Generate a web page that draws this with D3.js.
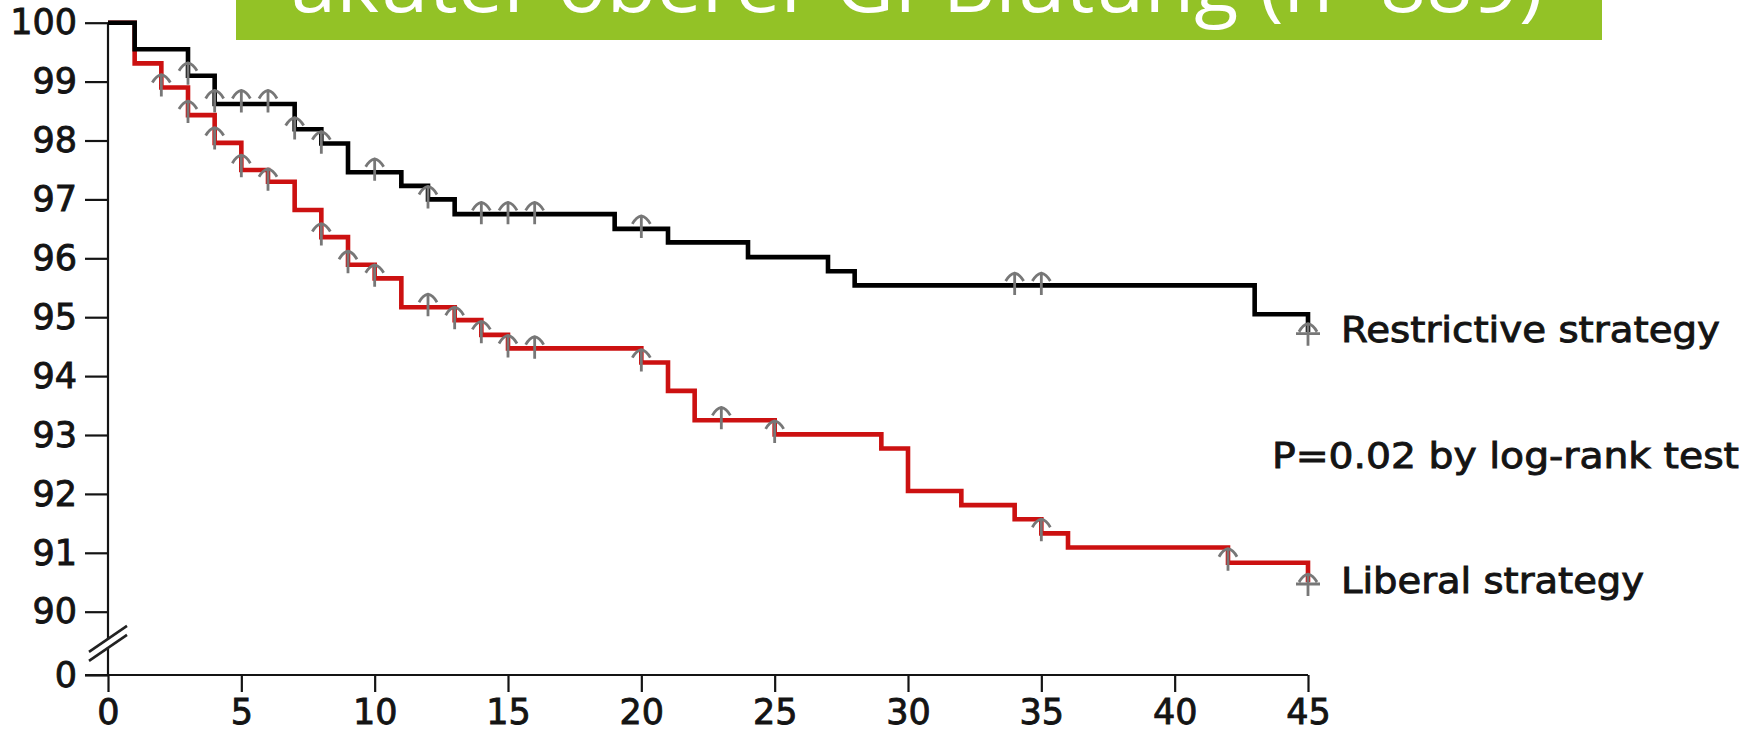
<!DOCTYPE html>
<html>
<head>
<meta charset="utf-8">
<script src="https://cdn.jsdelivr.net/npm/d3@7"></script>
<style>
  html, body { margin: 0; padding: 0; background: #fff; }
  svg { display: block; }
</style>
</head>
<body>
<div id="chart"></div>
<script>
// Kaplan-Meier data (days vs % survival)
var xTicks = [0, 5, 10, 15, 20, 25, 30, 35, 40, 45];
var yTicks = [0, 90, 91, 92, 93, 94, 95, 96, 97, 98, 99, 100];

var restrictiveTimes = [0, 1, 3, 4, 7, 8, 9, 11, 12, 13, 19, 21, 24, 27, 28, 43, 45];
var restrictiveSurv = [100, 99.55, 99.1, 98.62, 98.19, 97.95, 97.46, 97.23, 97.0, 96.75,
  96.5, 96.27, 96.02, 95.78, 95.54, 95.05, 94.75];

var liberalTimes = [0, 1, 2, 3, 4, 5, 6, 7, 8, 9, 10, 11, 13, 14, 15, 20, 21, 22, 25,
  29, 30, 32, 34, 35, 36, 42, 45];
var liberalSurv = [100, 99.31, 98.9, 98.43, 97.96, 97.5, 97.3, 96.82, 96.36, 95.89, 95.66,
  95.17, 94.95, 94.7, 94.47, 94.23, 93.75, 93.25, 93.01, 92.77, 92.05, 91.81, 91.57,
  91.33, 91.09, 90.83, 90.5];

// censored observations
var restrictiveCensorT = [3, 4, 5, 6, 7, 8, 10, 12, 14, 15, 16, 20, 34, 35, 45];
var restrictiveCensorV = [99.15, 98.68, 98.68, 98.68, 98.22, 97.98, 97.52, 97.05, 96.78,
  96.78, 96.78, 96.55, 95.58, 95.58, 94.72];
var liberalCensorT = [2, 3, 4, 5, 6, 8, 9, 10, 12, 13, 14, 15, 16, 20, 23, 25, 35, 42, 45];
var liberalCensorV = [98.95, 98.5, 98.05, 97.58, 97.35, 96.42, 95.95, 95.72, 95.22, 95.0,
  94.76, 94.52, 94.5, 94.28, 93.3, 93.07, 91.4, 90.9, 90.47];

var title = 'akuter oberer GI-Blutung (n=889)';
var seriesLabels = ['Restrictive strategy', 'Liberal strategy'];
var pLabel = 'P=0.02 by log-rank test';

var width = 1744,
  height = 733,
  green = '#93c226',
  red = '#cc1111',
  grey = '#777',
  ink = '#141414',
  font = '"DejaVu Sans", sans-serif';

var svg = d3.select('#chart')
  .append('svg')
  .attr('width', width)
  .attr('height', height);

var x = d3.scaleLinear().domain([0, 45]).range([108, 1308]);
// broken axis: 0 sits under a gap below 90
var y = d3.scaleLinear().domain([0, 90, 100]).range([675, 611.7, 22.7]);

// title banner, cut off at the top like the slide
svg.append('rect')
  .attr('x', 236).attr('y', 0)
  .attr('width', 1366).attr('height', 40)
  .attr('fill', green);

svg.append('text')
  .attr('x', 291).attr('y', 12)
  .attr('textLength', 1252)
  .attr('lengthAdjust', 'spacingAndGlyphs')
  .style('font-family', '"Open Sans", sans-serif')
  .style('font-size', '76px')
  .style('fill', '#fff')
  .text(title);

// axes
var yAxis = svg.append('g')
  .attr('transform', 'translate(' + x(0) + ',0)')
  .call(d3.axisLeft(y).tickValues(yTicks).tickSize(23).tickPadding(8).tickFormat(d3.format('d')));

var xAxis = svg.append('g')
  .attr('transform', 'translate(0,' + y(0) + ')')
  .call(d3.axisBottom(x).tickValues(xTicks).tickSize(17).tickPadding(8).tickFormat(d3.format('d')));

[yAxis, xAxis].forEach(function(a) {
  a.select('.domain').remove();
  a.selectAll('.tick line').attr('stroke', ink).attr('stroke-width', 2.2);
  a.selectAll('.tick text')
    .style('font-family', font)
    .style('font-size', '35px')
    .style('fill', ink)
    .style('stroke', ink)
    .style('stroke-width', 0.9);
});
xAxis.selectAll('.tick text').attr('dy', '0.68em');

var breakY = (y(0) + y(90)) / 2;
svg.append('g')
  .attr('stroke', ink)
  .attr('stroke-width', 2.2)
  .selectAll('line')
  .data([[y(100), breakY - 4], [breakY + 5, y(0)]])
  .enter()
  .append('line')
  .attr('x1', x(0)).attr('x2', x(0))
  .attr('y1', function(d) { return d[0]; })
  .attr('y2', function(d) { return d[1]; });

svg.append('line')
  .attr('x1', x(0) - 23).attr('x2', x(45))
  .attr('y1', y(0)).attr('y2', y(0))
  .attr('stroke', ink).attr('stroke-width', 2.2);

svg.append('g')
  .attr('stroke', '#222')
  .attr('stroke-width', 2.6)
  .selectAll('line')
  .data([-4.5, 4.5])
  .enter()
  .append('line')
  .attr('x1', x(0) - 19).attr('x2', x(0) + 19)
  .attr('y1', function(d) { return breakY + d + 13; })
  .attr('y2', function(d) { return breakY + d - 13; });

// curves
var line = d3.line()
  .x(function(d) { return x(d[0]); })
  .y(function(d) { return y(d[1]); })
  .curve(d3.curveStepAfter);

var series = [
  { times: liberalTimes, surv: liberalSurv, color: red, ct: liberalCensorT, cv: liberalCensorV },
  { times: restrictiveTimes, surv: restrictiveSurv, color: '#000', ct: restrictiveCensorT, cv: restrictiveCensorV }
];

series.forEach(function(s) {
  svg.append('path')
    .datum(d3.zip(s.times, s.surv))
    .attr('d', line)
    .attr('fill', 'none')
    .attr('stroke', s.color)
    .attr('stroke-width', 4.6)
    .attr('stroke-linejoin', 'miter');
});

// censor arrows
series.forEach(function(s) {
  svg.append('g')
    .selectAll('path')
    .data(d3.zip(s.ct, s.cv))
    .enter()
    .append('path')
    .attr('transform', function(d) {
      return 'translate(' + x(d[0]) + ',' + y(d[1]) + ')';
    })
    .attr('d', function(d) {
      var p = 'M0,12V-9M-9,-2Q-5,-9 0,-10Q5,-9 9,-2';
      if (d[0] === 45) p += 'M-12,0H12';
      return p;
    })
    .attr('fill', 'none')
    .attr('stroke', grey)
    .attr('stroke-width', 2.8);
});

// labels
var labels = [
  { text: seriesLabels[0], x: 1341, y: 342, len: 379 },
  { text: pLabel, x: 1272, y: 468, len: 467 },
  { text: seriesLabels[1], x: 1341, y: 593, len: 303 }
];

svg.append('g')
  .selectAll('text')
  .data(labels)
  .enter()
  .append('text')
  .attr('x', function(d) { return d.x; })
  .attr('y', function(d) { return d.y; })
  .attr('textLength', function(d) { return d.len; })
  .attr('lengthAdjust', 'spacingAndGlyphs')
  .style('font-family', font)
  .style('font-size', '35px')
  .style('fill', ink)
  .style('stroke', ink)
  .style('stroke-width', 0.9)
  .text(function(d) { return d.text; });
</script>
</body>
</html>
